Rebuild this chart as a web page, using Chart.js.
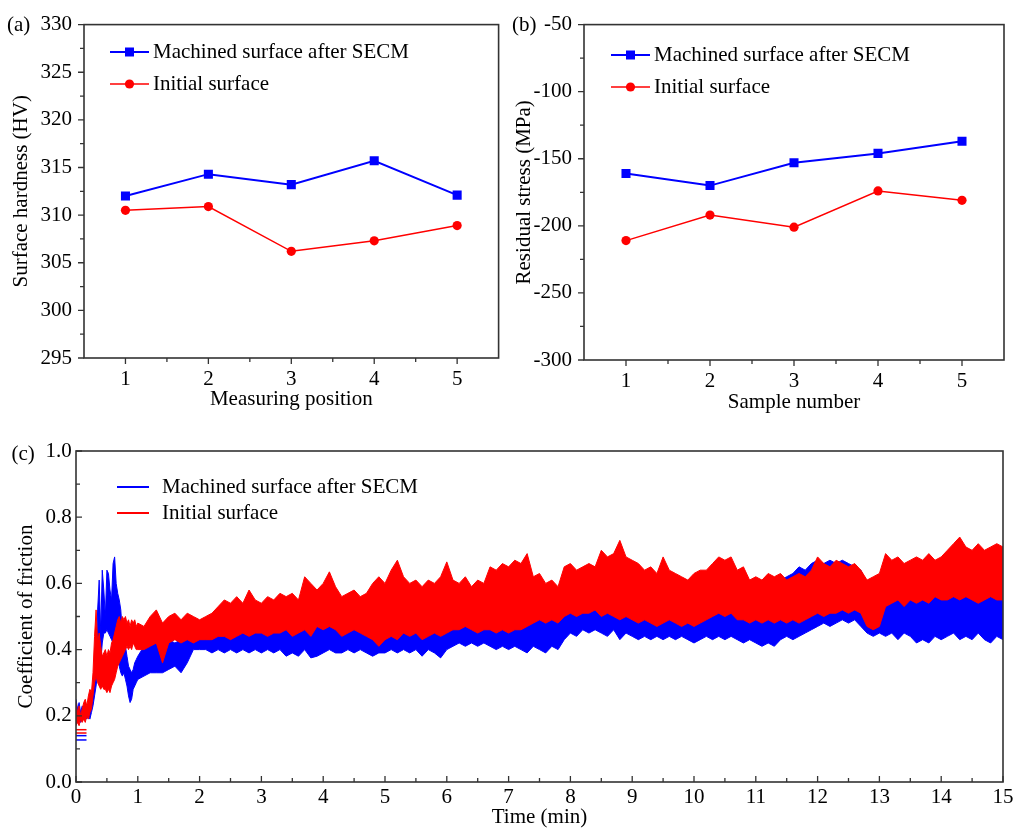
<!DOCTYPE html>
<html>
<head>
<meta charset="utf-8">
<title>Surface hardness, residual stress and friction coefficient</title>
<script src="https://cdn.jsdelivr.net/npm/chart.js@4/dist/chart.umd.min.js"></script>
<style>
  html, body { margin: 0; padding: 0; background: #fff; overflow: hidden; }
  body { width: 1014px; height: 828px; position: relative; }
  canvas { position: absolute; display: block; }
</style>
</head>
<body>
<canvas id="hardness" width="505" height="415" style="left:0;top:0"></canvas>
<canvas id="stress" width="509" height="415" style="left:505px;top:0"></canvas>
<canvas id="friction" width="1014" height="413" style="left:0;top:415px"></canvas>
<script>
// ---- series names ----
const seriesNames = ['Machined surface after SECM', 'Initial surface'];

// ---- (a) surface hardness at five measuring positions ----
const positions = [1, 2, 3, 4, 5];
const hardnessSECM = [312.0, 314.3, 313.2, 315.7, 312.1];
const hardnessInitial = [310.5, 310.9, 306.2, 307.3, 308.9];
const hardnessTicks = [295, 300, 305, 310, 315, 320, 325, 330];

// ---- (b) residual stress of five samples ----
const samples = [1, 2, 3, 4, 5];
const stressSECM = [-161, -170, -153, -146, -137];
const stressInitial = [-211, -192, -201, -174, -181];
const stressTicks = [-300, -250, -200, -150, -100, -50];

// ---- (c) coefficient of friction vs time: low / high of the trace in each time bin ----
// running-in period, 0 - 1.0 min in 0.025 min bins
const runInHiSECM = [
  .25,.22,.24,.21,.23,.22,.24,.21,.23,.22,
  .24,.27,.33,.36,.52,.61,.45,.64,.58,.50,
  .64,.63,.58,.55,.66,.68,.60,.57,.55,.52,
  .45,.43,.41,.38,.35,.34,.33,.34,.36,.37,
  .38
];
const runInLoSECM = [
  .19,.18,.19,.18,.19,.19,.20,.19,.20,.19,
  .21,.23,.26,.29,.33,.35,.36,.42,.45,.45,
  .46,.45,.44,.43,.42,.42,.40,.38,.35,.33,
  .32,.33,.31,.29,.26,.24,.25,.28,.29,.30,
  .31
];
const runInHiInitial = [
  .24,.21,.23,.20,.22,.24,.25,.23,.26,.28,
  .27,.33,.44,.52,.42,.45,.41,.38,.39,.40,
  .38,.40,.39,.42,.43,.45,.47,.49,.50,.48,
  .50,.49,.50,.48,.49,.47,.49,.48,.49,.47,
  .48
];
const runInLoInitial = [
  .17,.18,.17,.19,.18,.19,.18,.20,.19,.21,
  .22,.26,.30,.32,.30,.29,.28,.29,.28,.28,
  .27,.28,.27,.29,.30,.31,.33,.35,.36,.37,
  .38,.39,.40,.41,.40,.41,.40,.42,.41,.40,
  .40
];
// steady sliding, 1.1 - 15.0 min in 0.1 min bins
const steadyLoSECM = [
      .32,.33,.33,.33,.34,.35,.33,.36,.40,
  .40,.40,.39,.40,.39,.40,.39,.40,.39,.40,
  .39,.40,.39,.40,.38,.39,.38,.40,.375,.38,
  .39,.40,.39,.39,.40,.39,.40,.39,.38,.39,
  .39,.40,.39,.40,.39,.40,.38,.40,.39,.375,
  .40,.41,.42,.41,.42,.41,.42,.41,.40,.41,
  .40,.41,.40,.39,.41,.40,.39,.41,.40,.43,
  .45,.44,.46,.45,.46,.45,.44,.46,.43,.45,
  .44,.43,.44,.43,.44,.43,.44,.43,.44,.43,
  .42,.43,.44,.43,.44,.43,.44,.43,.42,.43,
  .42,.41,.42,.41,.43,.44,.43,.44,.45,.46,
  .47,.48,.47,.48,.49,.48,.49,.47,.45,.44,
  .45,.44,.45,.43,.45,.44,.42,.43,.42,.44,
  .43,.44,.45,.43,.44,.43,.45,.43,.42,.44,
  .43
];
const steadyHiSECM = [
      .41,.42,.42,.41,.43,.42,.43,.44,.44,
  .45,.45,.45,.46,.45,.46,.45,.46,.47,.46,
  .47,.46,.47,.46,.47,.47,.48,.48,.49,.50,
  .49,.49,.50,.48,.50,.50,.51,.49,.48,.47,
  .48,.47,.48,.48,.47,.48,.47,.48,.47,.48,
  .48,.49,.48,.49,.48,.50,.51,.52,.51,.53,
  .54,.53,.54,.53,.52,.52,.53,.52,.53,.55,
  .56,.57,.58,.63,.57,.56,.56,.57,.56,.57,
  .56,.55,.56,.55,.56,.55,.56,.57,.58,.60,
  .61,.58,.57,.56,.57,.56,.57,.56,.57,.56,
  .57,.56,.58,.57,.61,.62,.63,.65,.64,.66,
  .67,.66,.67,.66,.67,.66,.65,.64,.60,.58,
  .58,.60,.59,.58,.57,.58,.56,.57,.56,.57,
  .58,.57,.58,.57,.58,.56,.57,.58,.57,.56,
  .57
];
const steadyLoInitial = [
      .40,.41,.42,.36,.42,.43,.42,.43,.42,
  .43,.43,.43,.44,.44,.43,.44,.45,.44,.45,
  .45,.44,.45,.45,.46,.44,.45,.46,.44,.47,
  .46,.47,.46,.44,.45,.46,.45,.44,.43,.41,
  .43,.44,.43,.45,.44,.45,.43,.44,.45,.44,
  .45,.46,.46,.47,.46,.45,.46,.46,.45,.46,
  .45,.46,.46,.47,.48,.49,.48,.49,.48,.50,
  .51,.50,.51,.51,.52,.50,.51,.50,.49,.50,
  .49,.48,.49,.48,.47,.48,.49,.48,.47,.48,
  .47,.48,.49,.50,.51,.50,.51,.49,.49,.48,
  .49,.48,.49,.48,.49,.48,.49,.48,.49,.50,
  .51,.50,.51,.51,.52,.51,.52,.51,.47,.46,
  .47,.53,.54,.55,.53,.55,.54,.55,.54,.56,
  .55,.55,.56,.55,.56,.55,.54,.55,.56,.55,
  .55
];
const steadyHiInitial = [
      .47,.50,.52,.48,.50,.51,.49,.51,.50,
  .49,.50,.51,.53,.55,.54,.56,.54,.58,.55,
  .54,.56,.55,.57,.56,.57,.55,.62,.60,.58,
  .60,.635,.59,.56,.57,.58,.56,.57,.60,.62,
  .60,.64,.67,.62,.60,.61,.59,.61,.60,.62,
  .665,.61,.60,.62,.59,.61,.60,.65,.64,.66,
  .65,.67,.66,.69,.62,.63,.60,.61,.59,.65,
  .66,.64,.65,.66,.65,.70,.68,.69,.73,.68,
  .67,.66,.64,.65,.63,.68,.64,.63,.62,.61,
  .63,.64,.64,.66,.68,.67,.68,.64,.65,.61,
  .62,.61,.63,.62,.63,.61,.62,.63,.62,.64,
  .68,.66,.65,.67,.66,.65,.66,.64,.61,.62,
  .63,.69,.67,.68,.66,.67,.68,.67,.69,.67,
  .68,.70,.72,.74,.71,.70,.72,.70,.71,.72,
  .71
];
// short flat traces at the very start of each test
const startTimes = [0, 0.17];
const startSECM = [[0.14, 0.14], [0.127, 0.127]];
const startInitial = [[0.158, 0.158], [0.148, 0.148]];

const timeTicks = [0,1,2,3,4,5,6,7,8,9,10,11,12,13,14,15];
const frictionTicks = [0, 0.2, 0.4, 0.6, 0.8, 1.0];
const frictionTickLabels = ['0.0', '0.2', '0.4', '0.6', '0.8', '1.0'];

// ---- styling ----
const SERIF = '"Liberation Serif", "Times New Roman", serif';
const FONT = { family: SERIF, size: 21, lineHeight: 1.2 };
const INK = '#000';
const BOX = '#333';
const BLUE = '#0000ff';
const RED = '#ff0000';

// bin times: fine bins for the running-in period, then 0.1 min bins
const binTime = runInHiSECM.map((_, i) => i * 0.025)
  .concat(steadyHiSECM.map((_, i) => Math.round(11 + i) / 10));
const trace = (a, b) => a.concat(b);

const pts = (xs, ys) => xs.map((x, i) => ({ x, y: ys[i] }));
const mids = vals => vals.slice(1).map((v, i) => (v + vals[i]) / 2);

// axis frame, major/minor ticks, legend and panel tag
const framePlugin = {
  id: 'frame',
  afterDatasetsDraw(chart, _args, o) {
    const { ctx, chartArea: a, scales: { x, y } } = chart;
    const dir = o.inward ? -1 : 1;
    ctx.save();
    ctx.strokeStyle = BOX;
    ctx.lineWidth = 1.3;
    ctx.beginPath();
    const xv = x.ticks.map(t => t.value), yv = y.ticks.map(t => t.value);
    const xt = (v, len) => { const p = x.getPixelForValue(v); ctx.moveTo(p, a.bottom); ctx.lineTo(p, a.bottom + dir * len); };
    const yt = (v, len) => { const p = y.getPixelForValue(v); ctx.moveTo(a.left, p); ctx.lineTo(a.left - dir * len, p); };
    xv.forEach(v => xt(v, 6)); mids(xv).forEach(v => xt(v, 4));
    yv.forEach(v => yt(v, 6)); mids(yv).forEach(v => yt(v, 4));
    ctx.stroke();
    ctx.lineWidth = 1.6;
    ctx.strokeRect(a.left, a.top, a.right - a.left, a.bottom - a.top);

    // legend
    ctx.font = `21px ${SERIF}`;
    ctx.textBaseline = 'middle';
    ctx.textAlign = 'left';
    o.legend.items.forEach((it, i) => {
      const yy = o.legend.y + i * o.legend.gap;
      ctx.strokeStyle = it.color;
      ctx.lineWidth = it.width;
      ctx.beginPath();
      ctx.moveTo(o.legend.x0, yy);
      ctx.lineTo(o.legend.x1, yy);
      ctx.stroke();
      const cx = (o.legend.x0 + o.legend.x1) / 2;
      ctx.fillStyle = it.color;
      if (it.marker === 'rect') { ctx.fillRect(cx - 4.5, yy - 4.5, 9, 9); }
      else if (it.marker === 'circle') { ctx.beginPath(); ctx.arc(cx, yy, 4.6, 0, Math.PI * 2); ctx.fill(); }
      ctx.fillStyle = INK;
      ctx.fillText(it.label, o.legend.tx, yy);
    });

    // panel tag
    ctx.textBaseline = 'alphabetic';
    ctx.fillStyle = INK;
    ctx.fillText(o.tag.text, o.tag.x, o.tag.y);
    ctx.restore();
  }
};

function axisTitle(text, padding, lineHeight) {
  return { display: true, text, color: INK, font: Object.assign({}, FONT, lineHeight ? { lineHeight } : {}), padding };
}

function baseOptions(pad) {
  return {
    responsive: false,
    animation: false,
    events: [],
    layout: { padding: pad },
    plugins: { legend: { display: false }, tooltip: { enabled: false } }
  };
}

// ---- (a) and (b) ----
function pointPanel(id, opts) {
  const o = baseOptions(opts.pad);
  o.scales = {
    x: {
      type: 'linear', min: 0.5, max: 5.5,
      afterBuildTicks: s => { s.ticks = opts.xs.map(v => ({ value: v })); },
      grid: { display: false, drawTicks: false }, border: { display: false },
      ticks: { color: INK, font: FONT, padding: opts.xPad, maxRotation: 0 },
      title: axisTitle(opts.xTitle, { bottom: opts.xTitlePad }),
      afterFit: s => { s.height = opts.xHeight; }
    },
    y: {
      min: opts.yTicks[0], max: opts.yTicks[opts.yTicks.length - 1],
      afterBuildTicks: s => { s.ticks = opts.yTicks.map(v => ({ value: v })); },
      grid: { display: false, drawTicks: false }, border: { display: false },
      ticks: { color: INK, font: FONT, padding: 12 },
      title: axisTitle(opts.yTitle, { top: opts.yTitlePad }),
      afterFit: s => { s.width = opts.yWidth; }
    }
  };
  o.plugins.frame = {
    inward: false,
    legend: {
      x0: opts.legendX0, x1: opts.legendX0 + 39, tx: opts.legendX0 + 43, y: opts.legendY, gap: 32,
      items: [
        { label: seriesNames[0], color: BLUE, width: 2, marker: 'rect' },
        { label: seriesNames[1], color: RED, width: 1.5, marker: 'circle' }
      ]
    },
    tag: opts.tag
  };
  return new Chart(document.getElementById(id), {
    type: 'line',
    data: {
      datasets: [
        { label: seriesNames[0], data: pts(opts.xs, opts.secm), borderColor: BLUE, backgroundColor: BLUE,
          borderWidth: 2, pointStyle: 'rect', pointRadius: 6.4, pointBorderWidth: 0, tension: 0 },
        { label: seriesNames[1], data: pts(opts.xs, opts.initial), borderColor: RED, backgroundColor: RED,
          borderWidth: 1.5, pointStyle: 'circle', pointRadius: 4.6, pointBorderWidth: 0, tension: 0 }
      ]
    },
    options: o,
    plugins: [framePlugin]
  });
}

pointPanel('hardness', {
  pad: { top: 23, right: 3, left: 0, bottom: 0 },
  xs: positions, secm: hardnessSECM, initial: hardnessInitial, yTicks: hardnessTicks,
  xTitle: 'Measuring position', yTitle: 'Surface hardness (HV)',
  xHeight: 57, yWidth: 84, xPad: 9, xTitlePad: 3, yTitlePad: 8.6,
  legendX0: 110, legendY: 52,
  tag: { text: '(a)', x: 7, y: 31 }
});

pointPanel('stress', {
  pad: { top: 23, right: 10, left: 0, bottom: 0 },
  xs: samples, secm: stressSECM, initial: stressInitial, yTicks: stressTicks,
  xTitle: 'Sample number', yTitle: 'Residual stress (MPa)',
  xHeight: 55, yWidth: 79, xPad: 9, xTitlePad: 0, yTitlePad: 7,
  legendX0: 106, legendY: 55,
  tag: { text: '(b)', x: 7, y: 31 }
});

// ---- (c) ----
(function () {
  const o = baseOptions({ top: 36, right: 11, left: 0, bottom: 0 });
  o.scales = {
    x: {
      type: 'linear', min: 0, max: 15,
      afterBuildTicks: s => { s.ticks = timeTicks.map(v => ({ value: v })); },
      grid: { display: false, drawTicks: false }, border: { display: false },
      // taller line box pushes the labels a little below the axis without widening the side padding
      ticks: { color: INK, font: Object.assign({}, FONT, { lineHeight: 1.5 }), padding: 0, maxRotation: 0, autoSkip: false },
      title: axisTitle('Time (min)', { bottom: 0.5 }, 1.0),
      afterFit: s => { s.height = 46; }
    },
    y: {
      min: 0, max: 1,
      afterBuildTicks: s => { s.ticks = frictionTicks.map(v => ({ value: v })); },
      grid: { display: false, drawTicks: false }, border: { display: false },
      ticks: { color: INK, font: FONT, padding: 4.3, callback: (v, i) => frictionTickLabels[i] },
      title: axisTitle('Coefficient of friction', { top: 13.6 }),
      afterFit: s => { s.width = 76; }
    }
  };
  o.plugins.frame = {
    inward: true,
    legend: {
      x0: 117, x1: 149, tx: 162, y: 72, gap: 26,
      items: [
        { label: seriesNames[0], color: BLUE, width: 2 },
        { label: seriesNames[1], color: RED, width: 2 }
      ]
    },
    tag: { text: '(c)', x: 11.5, y: 45 }
  };
  const band = (data, color, fill) => ({
    data, borderColor: color, backgroundColor: color, borderWidth: 1,
    pointRadius: 0, tension: 0, fill
  });
  const flat = (vals, color) => ({
    data: pts(startTimes, vals), borderColor: color, borderWidth: 1.5, pointRadius: 0, tension: 0, fill: false
  });
  new Chart(document.getElementById('friction'), {
    type: 'line',
    data: {
      datasets: [
        // first datasets are painted last, so the initial-surface trace sits on top
        band(pts(binTime, trace(runInHiInitial, steadyHiInitial)), RED, '+1'),
        band(pts(binTime, trace(runInLoInitial, steadyLoInitial)), RED, false),
        band(pts(binTime, trace(runInHiSECM, steadyHiSECM)), BLUE, '+1'),
        band(pts(binTime, trace(runInLoSECM, steadyLoSECM)), BLUE, false),
        flat(startInitial[0], RED), flat(startInitial[1], RED),
        flat(startSECM[0], BLUE), flat(startSECM[1], BLUE)
      ]
    },
    options: o,
    plugins: [framePlugin]
  });
})();
</script>
</body>
</html>
